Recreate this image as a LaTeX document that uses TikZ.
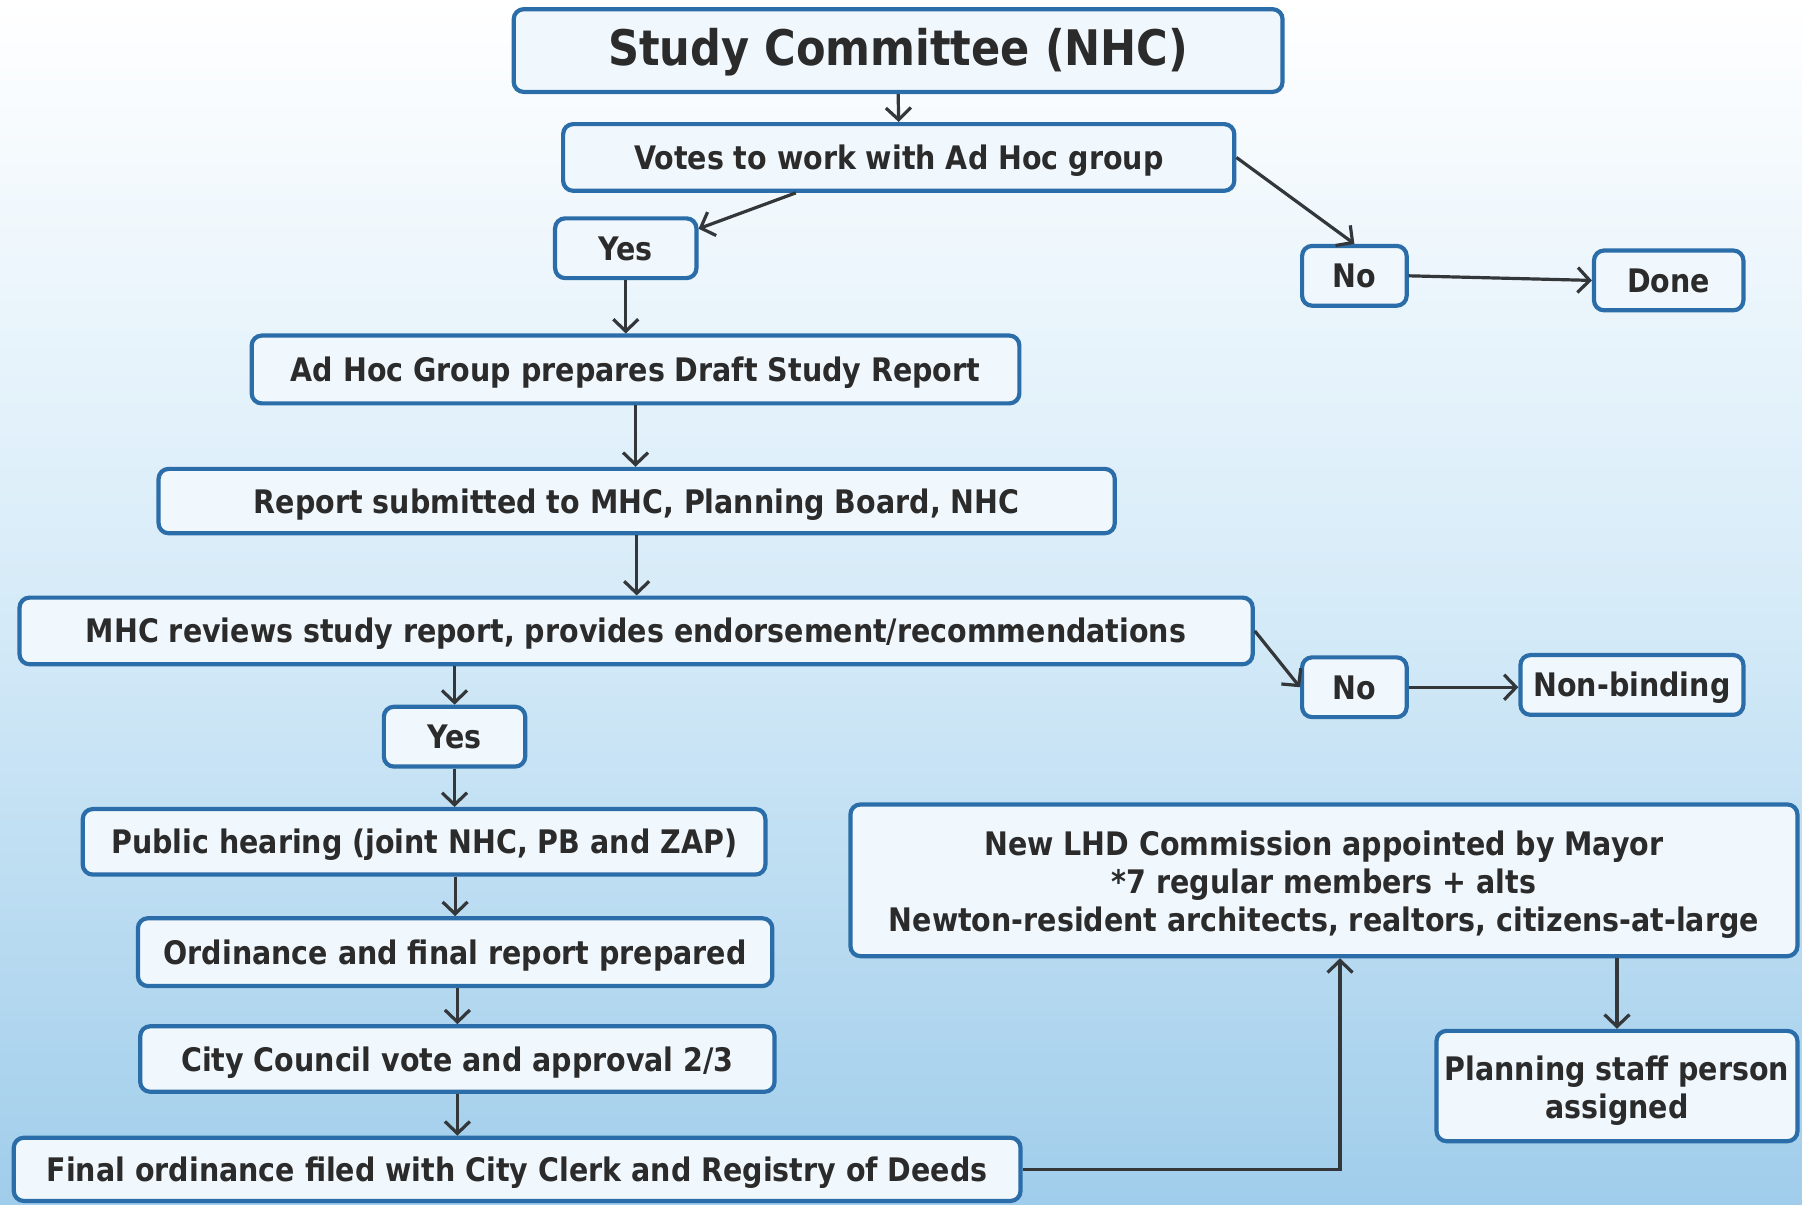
\documentclass[tikz,border=0pt]{standalone}
\usepackage{fontspec}
\setmainfont{DejaVu Sans}[FakeStretch=0.88]
\usetikzlibrary{arrows.meta,calc}
\definecolor{bord}{HTML}{2A6DA8}
\definecolor{boxfill}{HTML}{F1F8FD}
\definecolor{txt}{HTML}{2B2B2B}
\definecolor{lineclr}{HTML}{33373A}
\definecolor{bgtop}{HTML}{FFFFFF}
\definecolor{bgmid}{HTML}{D6EBF8}
\definecolor{bgbot}{HTML}{A0CDEB}
\newcommand\one[1]{\raisebox{0pt}[0.74em][0pt]{#1}}
\newcommand\mlines[1]{\begin{tabular}{@{}c@{}}#1\end{tabular}}
\newcommand\mkbox[6]{\node[box, minimum width={(#4-#2)*1.1492pt}, minimum height={(#5-#3)*1.1492pt}] (#1) at ({(#2+#4)/2},{(#3+#5)/2}) {\one{#6}};}
\begin{document}
\begin{tikzpicture}[x=1.1492pt,y=-1.1492pt,
  box/.style={draw=bord, line width=4.2pt, fill=boxfill, rounded corners=10pt,
    text=txt, font=\bfseries\fontsize{32.4}{38}\selectfont, inner sep=0pt},
  arr/.style={draw=lineclr, line width=3.2pt,
    -{Straight Barb[length=12pt,width=25pt,line width=3.2pt]}}]
\useasboundingbox (0,0) rectangle (1568,1048);
\shade[top color=bgtop, bottom color=bgbot, middle color=bgmid] (0,0) rectangle (1568,1048);

\node[box, font=\bfseries\fontsize{49}{54}\selectfont, minimum width={669*1.1492pt}, minimum height={72*1.1492pt}] (sc) at (781.5,44) {\raisebox{0pt}[0.6em][0pt]{Study Committee (NHC)}};
\mkbox{votes}{490}{108}{1074}{166}{Votes to work with Ad Hoc group}
\mkbox{yesa}{483}{190}{606}{242}{Yes}
\mkbox{noa}{1133}{214}{1224}{266}{No}
\mkbox{done}{1387}{218}{1517}{270}{Done}
\mkbox{adhoc}{219}{292}{887}{351}{Ad Hoc Group prepares Draft Study Report}
\mkbox{report}{138}{408}{970}{464}{Report submitted to MHC, Planning Board, NHC}
\mkbox{mhc}{17}{520}{1090}{578}{MHC reviews study report, provides endorsement/recommendations}
\mkbox{nob}{1133}{572}{1224}{624}{No}
\mkbox{nonb}{1323}{570}{1517}{622}{Non-binding}
\mkbox{yesb}{334}{615}{457}{667}{Yes}
\mkbox{public}{72}{704}{666}{761}{Public hearing (joint NHC, PB and ZAP)}
\mkbox{lhd}{740}{700}{1564}{832}{\mlines{New LHD Commission appointed by Mayor\\{*}7 regular members + alts\\Newton-resident architects, realtors, citizens-at-large}}
\mkbox{ord}{120}{799}{672}{858}{Ordinance and final report prepared}
\mkbox{city}{122}{893}{674}{950}{City Council vote and approval 2/3}
\mkbox{final}{12}{990}{888}{1045}{Final ordinance filed with City Clerk and Registry of Deeds}
\mkbox{plan}{1250}{897}{1564}{993}{\mlines{Planning staff person\\assigned}}

\draw[arr] (sc.south) -- (votes.north);
\draw[arr] (votes.199) -- (yesa.15);
\draw[arr] (votes.east) -- (noa.north);
\draw[arr] (noa.east) -- (done.west);
\draw[arr] (yesa.south) -- (yesa.south |- adhoc.north);
\draw[arr] (adhoc.south) -- (adhoc.south |- report.north);
\draw[arr] (report.south) -- (report.south |- mhc.north);
\draw[arr] (mhc.south -| yesb.north) -- (yesb.north);
\draw[arr] (mhc.east) -- (nob.west);
\draw[arr] (nob.east) -- (nob.east -| nonb.west);
\draw[arr] (yesb.south) -- (yesb.south |- public.north);
\draw[arr] (public.south -| ord.north) -- (ord.north);
\draw[arr] (ord.south -| city.north) -- (city.north);
\draw[arr] (city.south) -- (city.south |- final.north);
\draw[arr] (final.east) -| ($(lhd.south)+(14,0)$);
\draw[arr] (lhd.south -| plan.north) -- (plan.north);
\end{tikzpicture}
\end{document}
